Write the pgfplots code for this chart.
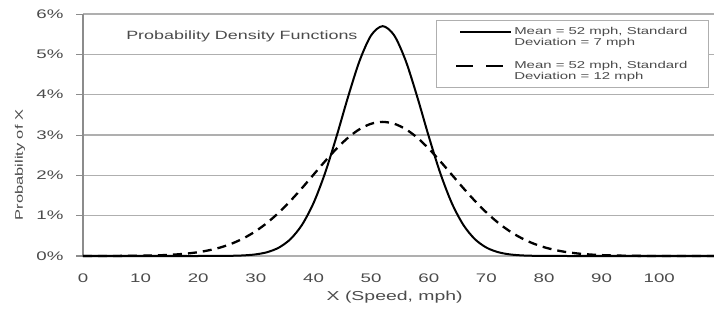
\documentclass[border=0pt]{standalone}
\usepackage{pgfplots}
\pgfplotsset{compat=1.18}
\usepackage{fontspec}
\setmainfont{Liberation Sans}[FakeStretch=1.5]
\definecolor{txt}{RGB}{75,75,75}
\definecolor{grid}{RGB}{175,175,175}
\definecolor{axl}{RGB}{140,140,140}
\begin{document}
\begin{tikzpicture}
\begin{axis}[
  scale only axis,
  width=631bp, height=242bp,
  xmin=0, xmax=109.5, ymin=0, ymax=6,
  axis x line*=bottom,
  axis y line*=left,
  x axis line style={draw=none},
  y axis line style={draw=axl, line width=2.5bp},
  xtick={0,10,...,100},
  ytick={0,1,...,6},
  ymajorgrids,
  grid style={draw=grid, line width=1.2bp},
  tick align=outside,
  major tick length=7bp,
  ytick style={draw=axl, line width=1bp},
  xtick style={draw=none},
  /pgf/number format/assume math mode=true,
  yticklabel={\pgfmathprintnumber{\tick}\%},
  ticklabel style={font=\fontsize{12.5}{13}\selectfont, text=txt},
  yticklabel style={xshift=-9bp},
  xticklabel style={yshift=-7bp},
  ylabel={Probability of X},
  ylabel style={at={(axis description cs:-0.0998,0.376)}, anchor=center, font=\fontsize{11}{12}\selectfont, text=txt},
  xlabel={X (Speed, mph)},
  xlabel style={at={(axis description cs:0.494,-0.169)}, anchor=center, font=\fontsize{13}{14}\selectfont, text=txt},
  legend style={at={(axis description cs:0.992,0.975)}, anchor=north east, draw=grid, line width=1bp, fill=white,
    font=\fontsize{10}{11}\selectfont, text=txt, cells={anchor=west, align=left}, row sep=10bp,
    inner xsep=19bp, inner ysep=5bp},
  clip=false,
]
\addplot[black, line width=2bp, smooth,
  legend image code/.code={\draw[black, line width=2bp] (0bp,5bp) -- (51bp,5bp);}]
 coordinates {
(0,0) (2,0) (4,0) (6,0) (8,0) (10,0) (12,0) (14,0) (16,0) (18,0) (20,0)
(22,0.0006) (24,0.0019) (26,0.0058) (28,0.0160) (30,0.0408) (32,0.0962)
(34,0.2090) (36,0.4181) (38,0.7713) (40,1.311) (42,2.054) (44,2.966)
(46,3.947) (48,4.841) (50,5.471) (52,5.699) (54,5.471) (56,4.841)
(58,3.947) (60,2.966) (62,2.054) (64,1.311) (66,0.7713) (68,0.4181)
(70,0.2090) (72,0.0962) (74,0.0408) (76,0.0160) (78,0.0058) (80,0.0019)
(82,0.0006) (84,0) (86,0) (88,0) (90,0) (92,0) (94,0) (96,0) (98,0)
(100,0) (102,0) (104,0) (106,0) (108,0) (110,0)
};
\addlegendentry{Mean = 52 mph, Standard\\Deviation = 7 mph}
\addplot[black, line width=2.3bp, smooth, dash pattern=on 9bp off 6bp,
  legend image code/.code={\draw[black, line width=2.5bp, dash pattern=on 17bp off 13bp] (-4bp,5bp) -- (47bp,5bp);}]
 coordinates {
(0,0.0003) (2,0.0006) (4,0.0011) (6,0.0021) (8,0.0040) (10,0.0073)
(12,0.0129) (14,0.0221) (16,0.0369) (18,0.0600) (20,0.0950) (22,0.1461)
(24,0.2185) (26,0.318) (28,0.450) (30,0.619) (32,0.829) (34,1.079)
(36,1.367) (38,1.683) (40,2.016) (42,2.349) (44,2.662) (46,2.934)
(48,3.145) (50,3.279) (52,3.325) (54,3.279) (56,3.145) (58,2.934)
(60,2.662) (62,2.349) (64,2.016) (66,1.683) (68,1.367) (70,1.079)
(72,0.829) (74,0.619) (76,0.450) (78,0.318) (80,0.2185) (82,0.1461)
(84,0.0950) (86,0.0600) (88,0.0369) (90,0.0221) (92,0.0129) (94,0.0073)
(96,0.0040) (98,0.0021) (100,0.0011) (102,0.0006) (104,0.0003)
(106,0.0001) (108,0.0001) (110,0)
};
\addlegendentry{Mean = 52 mph, Standard\\Deviation = 12 mph}
\node[anchor=west, font=\fontsize{12}{13}\selectfont, text=txt] at (axis description cs:0.063,0.908) {Probability Density Functions};
\end{axis}
\pgfresetboundingbox
\path (-83bp,-53bp) rectangle (631bp,256bp);
\end{tikzpicture}
\end{document}
